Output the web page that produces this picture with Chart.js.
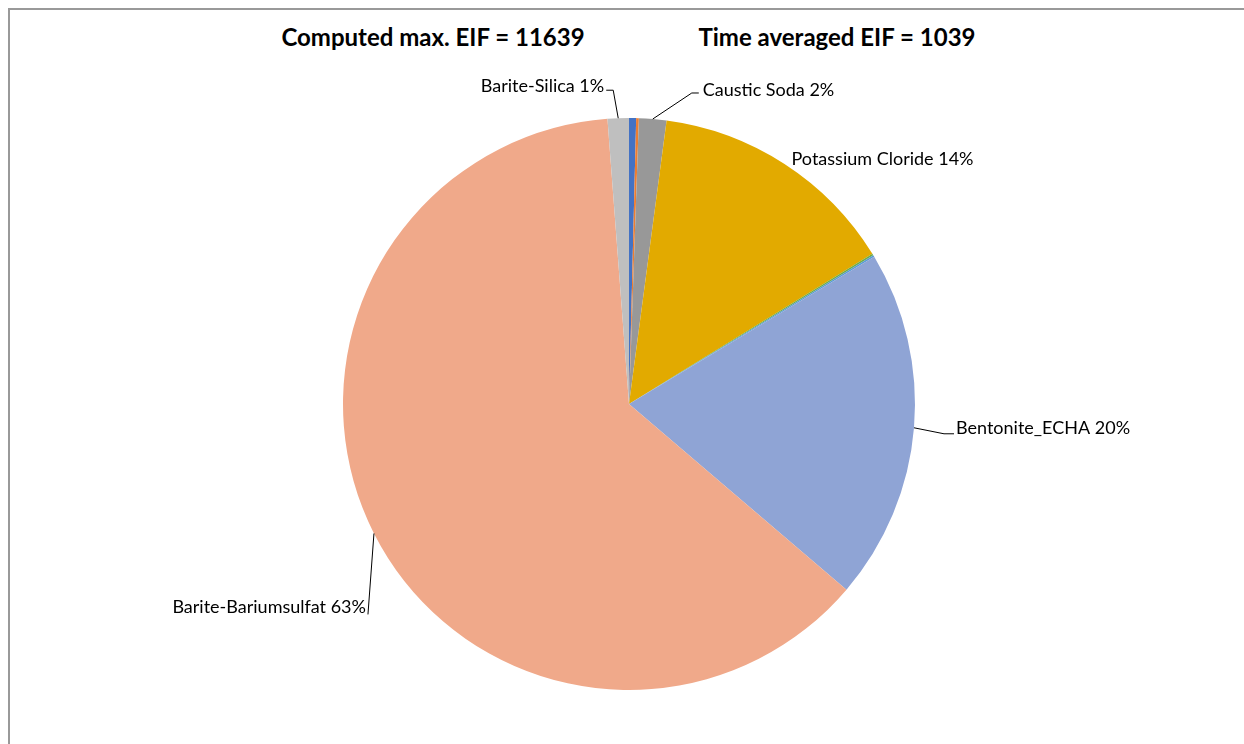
<!DOCTYPE html>
<html>
<head>
<meta charset="utf-8">
<script src="https://cdn.jsdelivr.net/npm/chart.js@4/dist/chart.umd.min.js"></script>
<style>
  body { margin: 0; background: #fff; overflow: hidden; }
  #wrap { position: relative; width: 1244px; height: 744px; }
  #frame { position: absolute; left: 8px; top: 8px; width: 1300px; height: 800px;
           border-left: 2px solid #999; border-top: 2px solid #999; }
  .ttl { position: absolute; top: 22px; font: bold 24px Lato, sans-serif; color: #000;
         white-space: nowrap; transform: translateX(-50%); }
  canvas { position: absolute; left: 0; top: 0; }
</style>
</head>
<body>
<div id="wrap">
  <div id="frame"></div>
  <div class="ttl" id="t1" style="left:433px">Computed max. EIF = 11639</div>
  <div class="ttl" id="t2" style="left:837px">Time averaged EIF = 1039</div>
  <canvas id="chart" width="1244" height="744"></canvas>
</div>
<script>
// slices, clockwise from 12 o'clock
const names = ["", "", "Caustic Soda", "Potassium Cloride", "", "", "Bentonite_ECHA", "Barite-Bariumsulfat", "Barite-Silica"];
const shares = [0.4, 0.15, 1.55, 14.1, 0.1, 0.1, 19.85, 62.55, 1.2];
const shown = ["", "", "2%", "14%", "", "", "20%", "63%", "1%"];
const colors = ["#4472C4", "#ED7D31", "#989898", "#E2AA00", "#70AD47", "#5B9BD5", "#8FA4D5", "#F0A98A", "#BFBFBF"];

// label placement relative to the slice's outer edge midpoint
const place = {
  2: { line: [[39, -26], [46, -26]], tx: 50, ty: -29, align: "left" },
  3: { line: null, tx: 7, ty: -5, align: "left" },
  6: { line: [[30, 6], [40, 6]], tx: 42, ty: 0, align: "left" },
  7: { line: [[-6, 81]], tx: -8, ty: 74, align: "right" },
  8: { line: [[-5, -28], [-12, -28]], tx: -14, ty: -32, align: "right" },
};

const sliceLabels = {
  id: "sliceLabels",
  afterDatasetsDraw(chart) {
    const ctx = chart.ctx;
    const meta = chart.getDatasetMeta(0);
    ctx.save();
    ctx.font = "18px Lato, sans-serif";
    ctx.fillStyle = "#000";
    ctx.strokeStyle = "#000";
    ctx.lineWidth = 1;
    ctx.textBaseline = "middle";
    meta.data.forEach((arc, i) => {
      const p = place[i];
      if (!p) return;
      const mid = (arc.startAngle + arc.endAngle) / 2;
      const ex = arc.x + Math.cos(mid) * arc.outerRadius;
      const ey = arc.y + Math.sin(mid) * arc.outerRadius;
      if (p.line) {
        ctx.beginPath();
        ctx.moveTo(ex, ey);
        p.line.forEach(([dx, dy]) => ctx.lineTo(ex + dx, ey + dy));
        ctx.stroke();
      }
      ctx.textAlign = p.align;
      ctx.fillText(`${names[i]} ${shown[i]}`, ex + p.tx, ey + p.ty);
    });
    ctx.restore();
  },
};

new Chart(document.getElementById("chart"), {
  type: "pie",
  data: {
    labels: names,
    datasets: [{ data: shares, backgroundColor: colors, borderWidth: 0 }],
  },
  options: {
    responsive: false,
    animation: false,
    layout: { padding: { left: 14, right: 0, top: 118, bottom: 54 } },
    plugins: { legend: { display: false }, tooltip: { enabled: false }, title: { display: false } },
  },
  plugins: [sliceLabels],
});
</script>
</body>
</html>
